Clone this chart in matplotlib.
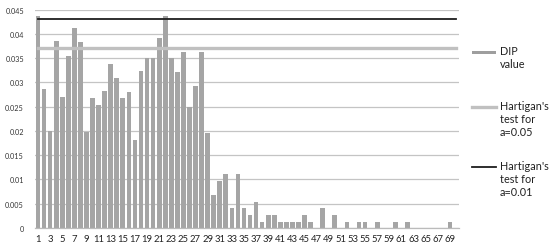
import matplotlib
matplotlib.use("Agg")
import matplotlib.pyplot as plt
from matplotlib.lines import Line2D
from matplotlib.patches import Rectangle
import numpy as np

categories = list(range(1, 70))
dip_values = [
    0.0436, 0.0286, 0.0200, 0.0385, 0.0271, 0.0355, 0.0412, 0.0383, 0.0197, 0.0268,
    0.0254, 0.0282, 0.0338, 0.0309, 0.0268, 0.0280, 0.0182, 0.0324, 0.0350, 0.0350,
    0.0392, 0.0436, 0.0350, 0.0322, 0.0363, 0.0250, 0.0293, 0.0363, 0.0195, 0.0068,
    0.0096, 0.0111, 0.0041, 0.0111, 0.0041, 0.0027, 0.0054, 0.0012, 0.0027, 0.0027,
    0.0012, 0.0012, 0.0012, 0.0012, 0.0027, 0.0012, 0.0, 0.0041, 0.0, 0.0027,
    0.0, 0.0012, 0.0, 0.0012, 0.0012, 0.0, 0.0012, 0.0, 0.0, 0.0012,
    0.0, 0.0012, 0.0, 0.0, 0.0, 0.0, 0.0, 0.0, 0.0012,
]
hartigan_005 = 0.0372
hartigan_001 = 0.0431
y_ticks = [0, 0.005, 0.01, 0.015, 0.02, 0.025, 0.03, 0.035, 0.04, 0.045]
y_tick_labels = ["0", "0.005", "0.01", "0.015", "0.02", "0.025", "0.03", "0.035", "0.04", "0.045"]
x_tick_labels = [str(c) for c in categories if c % 2 == 1]
legend_labels = ["DIP\nvalue", "Hartigan's\ntest for\na=0.05", "Hartigan's\ntest for\na=0.01"]

plt.rcParams['font.family'] = ['Lato', 'DejaVu Sans']

W, H = 550, 253
fig = plt.figure(figsize=(W / 100, H / 100), dpi=100)
ax = fig.add_axes([35 / W, 24 / H, 424 / W, (229 - 10.67) / H])

bar_color = "#A5A5A5"
ax.bar(categories, dip_values, width=0.77, color=bar_color, zorder=2)
ax.plot([categories[0], categories[-1] + 1], [hartigan_005] * 2, color="#C0C0C0",
        lw=2.4, solid_capstyle="projecting", zorder=3)
ax.plot([categories[0], categories[-1] + 1], [hartigan_001] * 2, color="#1E1E1E",
        lw=1.3, zorder=4)

ax.set_xlim(0.5, 70.5)
ax.set_ylim(0, 0.045)
ax.set_yticks(y_ticks)
ax.set_yticklabels(y_tick_labels, fontsize=5.2, color="#333333")
ax.set_xticks([c for c in categories if c % 2 == 1])
ax.set_xticklabels(x_tick_labels, fontsize=6.8, color="#222222")
ax.tick_params(axis="both", length=0)
ax.tick_params(axis="y", pad=8)
ax.tick_params(axis="x", pad=4.5)
ax.yaxis.grid(True, color="#C4C4C4", lw=0.9, zorder=0)
ax.set_axisbelow(True)
for s in ["top", "right", "left"]:
    ax.spines[s].set_visible(False)
ax.spines["bottom"].set_color("#BBBBBB")
ax.spines["bottom"].set_linewidth(0.9)

# legend (manual, figure pixel coords)
def fx(px):
    return px / W

def fy(py):
    return 1 - py / H

fig.add_artist(Rectangle((fx(472), fy(54.5)), 24 / W, 3 / H, transform=fig.transFigure,
                         facecolor="#9E9E9E", edgecolor="none"))
fig.add_artist(Line2D([fx(472), fx(496)], [fy(108), fy(108)], transform=fig.transFigure,
                      color="#C0C0C0", lw=2.4))
fig.add_artist(Line2D([fx(472), fx(496)], [fy(168), fy(168)], transform=fig.transFigure,
                      color="#1E1E1E", lw=1.3))
for lab, ypx in zip(legend_labels, [46, 101, 161]):
    fig.text(fx(500), fy(ypx), lab, fontsize=7.8, color="#222222", va="top", ha="left",
             linespacing=1.2)

fig.savefig("out.png", dpi=100)
